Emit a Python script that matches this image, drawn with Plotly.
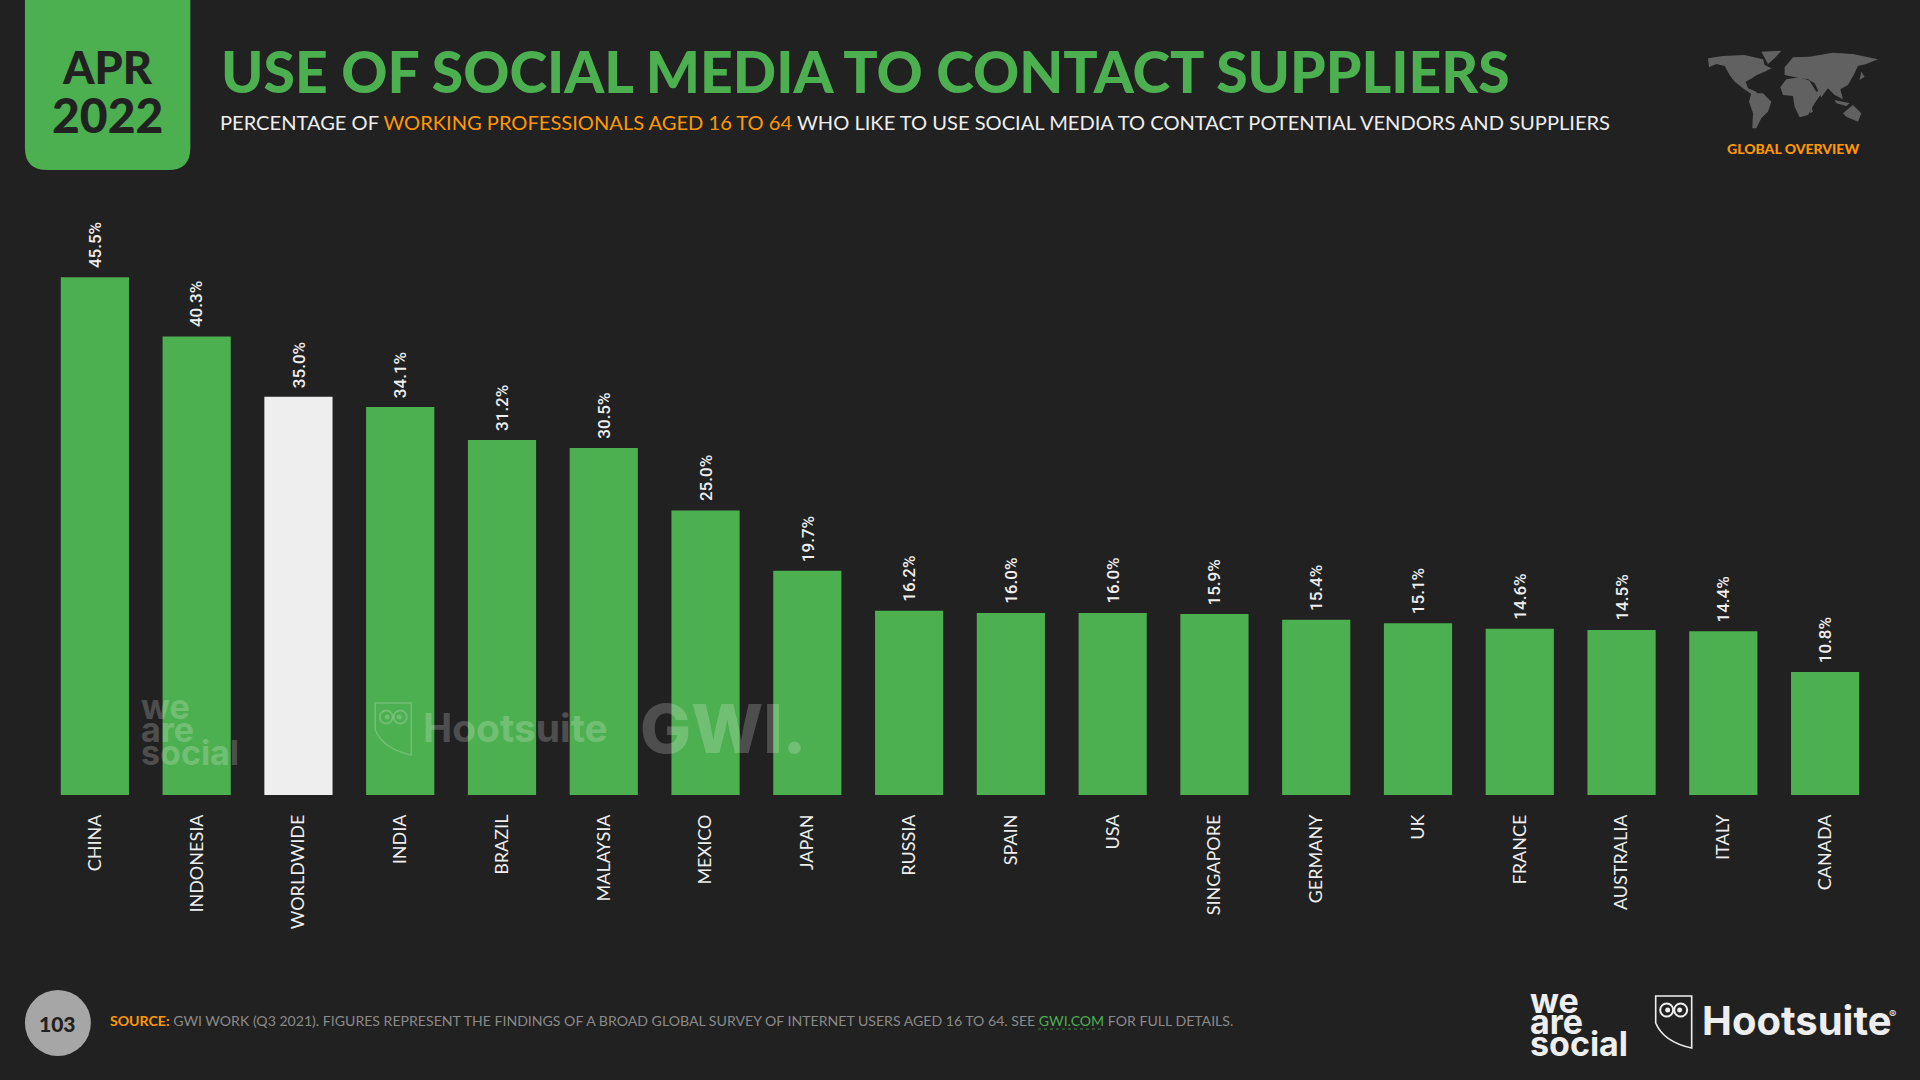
import plotly.graph_objects as go

countries = ["CHINA", "INDONESIA", "WORLDWIDE", "INDIA", "BRAZIL", "MALAYSIA", "MEXICO", "JAPAN", "RUSSIA",
             "SPAIN", "USA", "SINGAPORE", "GERMANY", "UK", "FRANCE", "AUSTRALIA", "ITALY", "CANADA"]
values = [45.5, 40.3, 35.0, 34.1, 31.2, 30.5, 25.0, 19.7, 16.2, 16.0, 16.0, 15.9, 15.4, 15.1, 14.6, 14.5, 14.4, 10.8]

GREEN = "#4CAF50"
WHITE = "#EEEEEE"
ORANGE = "#FF9800"
BG = "#212121"
MAP = "#616161"
FONT = "Lato"

L, R, T, B = 43.6, 43.6, 226, 285
W, H = 1920 - L - R, 1080 - T - B


def px(x, y):
    return (x - L) / W, (1080 - B - y) / H


def path(points, close=True):
    d = ""
    for i, (x, y) in enumerate(points):
        a, b = px(x, y)
        d += ("M" if i == 0 else "L") + f"{a:.5f},{b:.5f} "
    return d + ("Z" if close else "")


def label(x, y, text, size, color=WHITE, anchor="left", family=FONT, opacity=1, weight=None):
    a, b = px(x, y)
    font = dict(size=size, color=color, family=family)
    if weight:
        font["weight"] = weight
    fig.add_annotation(x=a, y=b, xref="paper", yref="paper", text=text, showarrow=False, xanchor=anchor,
                       yanchor="middle", font=font, opacity=opacity, borderpad=0, borderwidth=0)


def shape(d, fill=None, line=None, width=1, opacity=1, dash=None):
    fig.add_shape(type="path", path=d, xref="paper", yref="paper", fillcolor=fill or "rgba(0,0,0,0)",
                  line=dict(color=line or "rgba(0,0,0,0)", width=width, dash=dash), opacity=opacity, layer="above")


def circle(cx, cy, rx, ry, fill=None, line=None, width=1, opacity=1):
    x0, y0 = px(cx - rx, cy + ry)
    x1, y1 = px(cx + rx, cy - ry)
    fig.add_shape(type="circle", xref="paper", yref="paper", x0=x0, y0=y0, x1=x1, y1=y1,
                  fillcolor=fill or "rgba(0,0,0,0)", line=dict(color=line or "rgba(0,0,0,0)", width=width),
                  opacity=opacity, layer="above")


def owl(x, y, s, color, opacity=1):
    # shield outline + eyes, 36 wide at s=1
    a0, b0 = px(x, y)
    a1, b1 = px(x + 36 * s, y)
    a2, b2 = px(x + 36 * s, y + 52 * s)
    a3, b3 = px(x + 8 * s, y + 46 * s)
    a4, b4 = px(x, y + 27 * s)
    d = f"M{a0:.5f},{b0:.5f} L{a1:.5f},{b1:.5f} L{a2:.5f},{b2:.5f} Q{a3:.5f},{b3:.5f} {a4:.5f},{b4:.5f} Z"
    shape(d, line=color, width=1.6, opacity=opacity)
    circle(x + 11 * s, y + 14 * s, 6.5 * s, 6.5 * s, line=color, width=2, opacity=opacity)
    circle(x + 25 * s, y + 14 * s, 6.5 * s, 6.5 * s, line=color, width=2, opacity=opacity)
    circle(x + 12 * s, y + 14 * s, 2.5 * s, 2.5 * s, fill=color, opacity=opacity)
    circle(x + 24 * s, y + 14 * s, 2.5 * s, 2.5 * s, fill=color, opacity=opacity)


fig = go.Figure(go.Bar(
    x=countries, y=values,
    marker=dict(color=[WHITE if c == "WORLDWIDE" else GREEN for c in countries], line_width=0),
    width=0.67,
))

fig.update_layout(
    width=1920, height=1080, paper_bgcolor=BG, plot_bgcolor=BG, showlegend=False,
    margin=dict(l=L, r=R, t=T, b=B, pad=0),
    xaxis=dict(type="category", range=[-0.5, 17.5], showgrid=False, zeroline=False, showline=False, ticks="",
               tickangle=-90, ticklabelstandoff=15, automargin=False,
               tickfont=dict(family=FONT, size=18, color=WHITE)),
    yaxis=dict(range=[0, 50], visible=False),
)

# value labels sit a little clear of the bars
for c, v in zip(countries, values):
    fig.add_annotation(x=c, y=v, text=f"{v:.1f}%", showarrow=False, textangle=-90, yanchor="bottom", yshift=8,
                       borderpad=0, font=dict(family="Roboto", size=17, color=WHITE, weight=500))

# date tab
x0, y0 = px(24.5, 0)
x1, y1 = px(190, 170)
xa, ya = px(24.5, 148)
xb, yb = px(47, 170)
xc, yc = px(168, 170)
xd, yd = px(190, 148)
shape(f"M{x0},{y0} L{x1},{y0} L{xd},{yd} Q{x1},{y1} {xc},{yc} L{xb},{yb} Q{x0},{y1} {xa},{ya} Z", fill=GREEN)
label(107, 67, "APR", 45, BG, "center", weight=900)
label(107, 115, "2022", 48, BG, "center", weight=900)

# header
label(221, 71, "USE OF SOCIAL MEDIA TO CONTACT SUPPLIERS", 57, GREEN, weight=900)
label(220, 122, f'PERCENTAGE OF <span style="color:{ORANGE}">WORKING PROFESSIONALS AGED 16 TO 64</span> '
                'WHO LIKE TO USE SOCIAL MEDIA TO CONTACT POTENTIAL VENDORS AND SUPPLIERS', 20.1)

# world map, rough outlines
continents = [
    [(625, 175), (670, 168), (735, 165), (790, 178), (795, 195), (815, 205), (795, 215), (772, 225), (752, 238),
     (738, 245), (745, 265), (770, 275), (772, 282), (755, 282), (730, 265), (705, 245), (690, 225), (675, 198),
     (650, 192), (628, 202)],
    [(785, 155), (845, 152), (825, 175), (805, 192)],
    [(755, 280), (790, 280), (815, 305), (805, 335), (785, 355), (770, 385), (758, 385), (760, 340), (748, 305)],
    [(860, 238), (900, 232), (930, 242), (950, 275), (975, 268), (945, 310), (925, 345), (900, 352), (885, 320),
     (880, 288), (850, 285), (842, 262)],
    [(855, 202), (880, 172), (930, 170), (1000, 158), (1060, 162), (1135, 178), (1100, 192), (1075, 198), (1062, 225),
     (1045, 255), (1022, 268), (1030, 298), (1005, 285), (985, 265), (965, 292), (945, 250), (925, 238), (880, 230),
     (855, 225)],
    [(1030, 340), (1060, 315), (1085, 340), (1075, 365), (1040, 350)],
    [(1005, 300), (1050, 310), (1040, 318), (1010, 310)],
    [(935, 320), (940, 335), (930, 340)],
    [(1085, 215), (1095, 230), (1080, 240)],
]
for poly in continents:
    shape(path([(1500 + zx / 3, zy / 3) for zx, zy in poly]), fill=MAP)
label(1793, 148, "GLOBAL OVERVIEW", 14, ORANGE, "center", weight=900)

# footer
circle(57.5, 1023, 33, 33, fill="#A6A6A6")
label(57.5, 1024, "103", 21, BG, "center", weight=900)
label(110, 1020, f'<span style="color:{ORANGE}"><b>SOURCE:</b></span> <span style="color:#8A8A8A">GWI WORK (Q3 2021). '
                 'FIGURES REPRESENT THE FINDINGS OF A BROAD GLOBAL SURVEY OF INTERNET USERS AGED 16 TO 64. SEE </span>'
                 f'<span style="color:{GREEN}">GWI.COM</span><span style="color:#8A8A8A"> FOR FULL DETAILS.</span>', 14.1)
shape(path([(1038, 1029), (1104, 1029)], close=False), line=GREEN, width=1, dash="dot", opacity=0.7)

# logos
for y, word in zip([1000, 1021, 1043], ["we", "are", "social"]):
    label(1530, y, word, 34, WHITE, family="Inter", weight=700)
owl(1656, 996, 1, WHITE)
label(1702, 1020, "Hootsuite", 40, WHITE, family="Inter", weight=700)
label(1889, 1014, "®", 11, WHITE, family="Inter")

# watermarks across the bars
for y, word in zip([706, 729, 752], ["we", "are", "social"]):
    label(141, y, word, 34, "#FFFFFF", family="Inter", opacity=0.2, weight=700)
owl(375, 703, 1, "#FFFFFF", opacity=0.2)
label(423, 727, "Hootsuite", 39, "#FFFFFF", family="Inter", opacity=0.2, weight=700)
label(640, 728, "GWI.", 68, "#FFFFFF", family="Inter", opacity=0.2, weight=800)

fig.write_html("out.html", post_script="document.body.style.margin='0';", config={"displayModeBar": False})
